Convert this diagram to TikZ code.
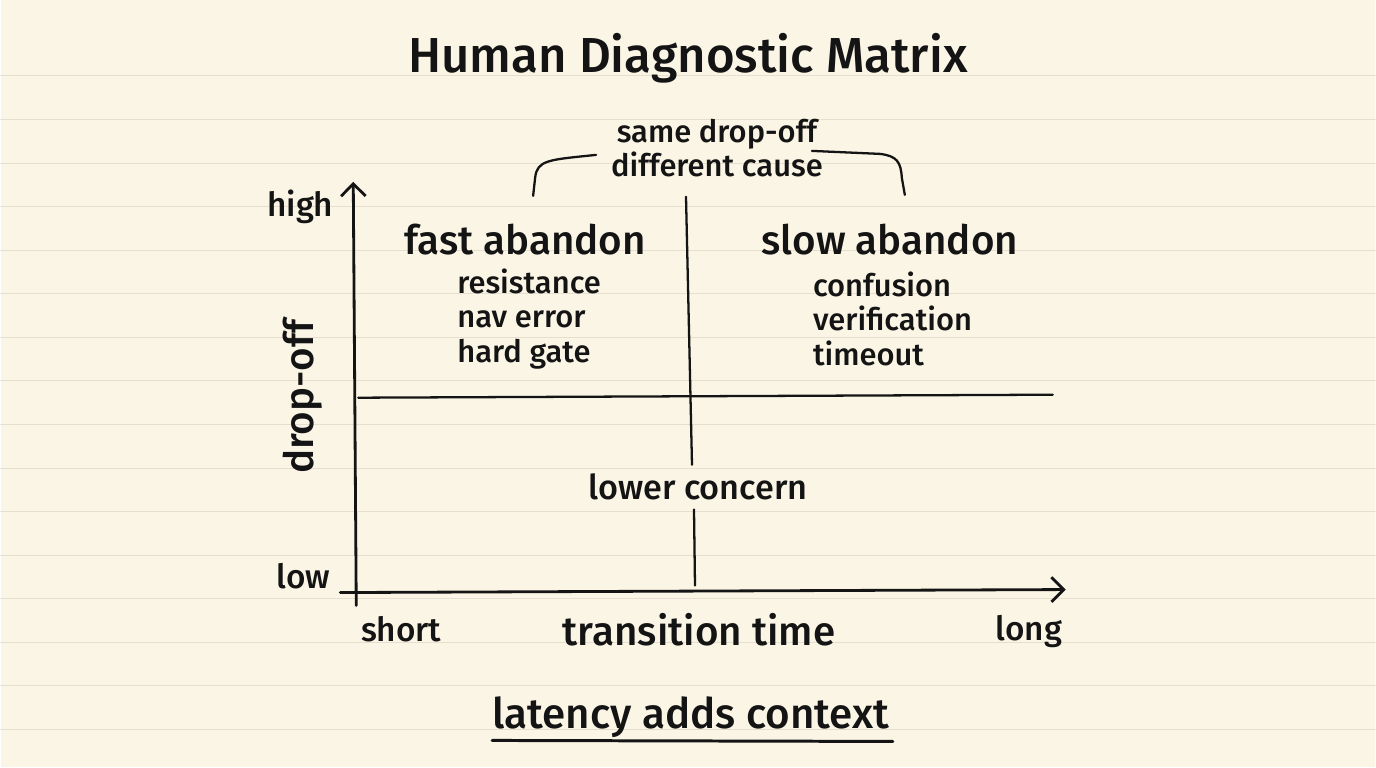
\documentclass[tikz,border=0pt]{standalone}
\usepackage{fontspec}
\setmainfont{Fira Sans Medium}
\usetikzlibrary{arrows.meta}

\definecolor{paper}{HTML}{FBF5E6}
\definecolor{ruled}{HTML}{E6DFCF}
\definecolor{ink}{HTML}{141414}

\begin{document}
\begin{tikzpicture}[x=0.02cm, y=-0.02cm, draw=ink, text=ink, line width=1.3pt, line cap=round,
  title node/.style={font=\fontsize{28}{31}\selectfont, inner sep=0pt},
  head node/.style={font=\fontsize{23}{26}\selectfont, inner sep=0pt},
  item node/.style={font=\fontsize{17.6}{19.6}\selectfont, align=left, inner sep=0pt},
  tick node/.style={font=\fontsize{19}{21}\selectfont, inner sep=0pt},
  axis node/.style={font=\fontsize{23}{26}\selectfont, inner sep=0pt},
  axis/.style={line width=1.6pt, -{Straight Barb[length=7pt,width=14pt]}}]

% paper
\fill[paper] (0,0) rectangle (1376,768);
\foreach \k in {0,...,15}
  \draw[ruled, line width=0.6pt] (0,76+43.6*\k) -- (1376,76+43.6*\k);

\node[title node] (title) at (688,58) {Human Diagnostic Matrix};

% axes
\coordinate (ybot) at (356,606);
\coordinate (ytop) at (353,182);
\coordinate (xleft) at (340,593);
\coordinate (xright) at (1066,590);
\draw[axis] (ybot) -- (ytop);
\draw[axis] (xleft) -- (xright);

\node[tick node] (high) at (300,207) {high};
\node[tick node] (low) at (303,577) {low};
\node[tick node] (short) at (401,630) {short};
\node[tick node] (long) at (1029,632) {long};
\node[axis node] (ttime) at (699,630) {transition time};
\node[axis node, rotate=90] (dropoff) at (302,397) {drop-off};

% quadrants
\coordinate (hleft) at (358,398);
\coordinate (hright) at (1053,395);
\coordinate (vtop) at (686,197);
\coordinate (vmid) at (692,465);
\coordinate (vlow) at (694,510);
\coordinate (vbot) at (695,586);
\draw (hleft) -- (hright);
\draw (vtop) -- (vmid);
\draw (vlow) -- (vbot);

\node[head node] (fast) at (525,240) {fast abandon};
\node[head node] (slow) at (890,240) {slow abandon};
\node[item node, anchor=west] (fastcauses) at (456,319) {resistance\\nav error\\hard gate};
\node[item node, anchor=west] (slowcauses) at (812,319) {confusion\\verification\\timeout};
\node[tick node, font=\fontsize{19.5}{22}\selectfont] (lower) at (698,487) {lower concern};

% bracket
\node[item node, align=center] (cause) at (717,148) {same drop-off\\different cause};
\coordinate (bl) at (533,196);
\coordinate (br) at (905,195);
\draw (bl) -- (535,178) .. controls (537,160) and (548,160) .. (596,155);
\draw (812,151) -- (880,154) .. controls (897,156) and (901,162) .. (902,178) -- (br);

% footer
\node[head node, font=\fontsize{24}{27}\selectfont] (context) at (691,718) {latency adds context};
\draw[line width=1.7pt] (492,741) -- (893,742);

\end{tikzpicture}
\end{document}
